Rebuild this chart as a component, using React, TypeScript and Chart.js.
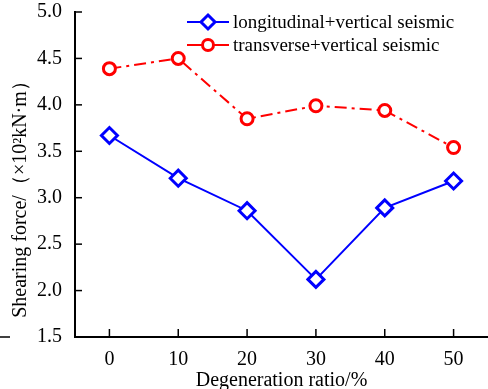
import React, { useEffect, useRef } from "react";
import { Chart, registerables } from "chart.js";

Chart.register(...registerables);

const categories = [0, 10, 20, 30, 40, 50];
const longitudinal = [3.67, 3.21, 2.86, 2.12, 2.89, 3.18];
const transverse = [4.39, 4.5, 3.85, 3.99, 3.94, 3.54];
const yTicks = [1.5, 2.0, 2.5, 3.0, 3.5, 4.0, 4.5, 5.0];
const seriesNames = ["longitudinal+vertical seismic", "transverse+vertical seismic"];
const xTitle = "Degeneration ratio/%";
const yTitle = "Shearing force/（×10²kN·m）        ";

const FONT = "'Liberation Serif', 'Times New Roman', serif";
const BLUE = "#0000ff";
const RED = "#ff0000";
const RED_DASH = [12, 5, 3, 5];

const decorPlugin = {
  id: "decor",
  afterDraw(chart: any) {
    const ctx = chart.ctx;
    const xs = chart.scales.x;
    const ys = chart.scales.y;
    const area = chart.chartArea;
    ctx.save();
    ctx.strokeStyle = "#000";
    ctx.lineWidth = 1.5;
    // inward ticks
    categories.forEach((v) => {
      const px = xs.getPixelForValue(v);
      ctx.beginPath();
      ctx.moveTo(px, area.bottom);
      ctx.lineTo(px, area.bottom - 8);
      ctx.stroke();
    });
    yTicks.forEach((v) => {
      const py = ys.getPixelForValue(v);
      ctx.beginPath();
      ctx.moveTo(area.left, py);
      ctx.lineTo(area.left + 7, py);
      ctx.stroke();
    });
    // stray mark at left
    ctx.beginPath();
    ctx.moveTo(0, area.bottom);
    ctx.lineTo(10, area.bottom);
    ctx.stroke();

    // legend
    const items = [
      { color: BLUE, style: "diamond", y: 22, name: seriesNames[0] },
      { color: RED, style: "circle", y: 45, name: seriesNames[1] },
    ];
    items.forEach((it) => {
      ctx.strokeStyle = it.color;
      ctx.lineWidth = 2;
      ctx.setLineDash([]);
      ctx.beginPath();
      ctx.moveTo(187, it.y);
      ctx.lineTo(229, it.y);
      ctx.stroke();
      ctx.lineWidth = 3;
      ctx.fillStyle = "#fff";
      ctx.beginPath();
      if (it.style === "diamond") {
        const r = 7;
        ctx.moveTo(208, it.y - r);
        ctx.lineTo(208 + r, it.y);
        ctx.lineTo(208, it.y + r);
        ctx.lineTo(208 - r, it.y);
        ctx.closePath();
      } else {
        ctx.arc(208, it.y, 5.5, 0, Math.PI * 2);
      }
      ctx.fill();
      ctx.stroke();
      ctx.fillStyle = "#000";
      ctx.font = "19px " + FONT;
      ctx.textBaseline = "middle";
      ctx.textAlign = "left";
      ctx.fillText(it.name, 233, it.y + 1);
    });
    ctx.restore();
  },
};

export default function App() {
  const ref = useRef<HTMLCanvasElement | null>(null);
  useEffect(() => {
    if (!ref.current) return;
    const chart = new Chart(ref.current, {
      type: "line",
      data: {
        datasets: [
          {
            label: seriesNames[0],
            data: categories.map((c, i) => ({ x: c, y: longitudinal[i] })),
            borderColor: BLUE,
            backgroundColor: "#fff",
            borderWidth: 2,
            pointStyle: "rectRot",
            pointRadius: 8,
            pointBorderWidth: 3,
            pointBorderColor: BLUE,
            pointBackgroundColor: "#fff",
          },
          {
            label: seriesNames[1],
            data: categories.map((c, i) => ({ x: c, y: transverse[i] })),
            borderColor: RED,
            backgroundColor: "#fff",
            borderWidth: 2,
            borderDash: RED_DASH,
            pointStyle: "circle",
            pointRadius: 6,
            pointBorderWidth: 3,
            pointBorderColor: RED,
            pointBackgroundColor: "#fff",
          },
        ],
      },
      options: {
        responsive: false,
        animation: false,
        devicePixelRatio: 1,
        layout: { autoPadding: false, padding: { top: 12, right: 0, bottom: 0, left: 0 } },
        plugins: { legend: { display: false }, tooltip: { enabled: false } },
        scales: {
          x: {
            type: "linear",
            min: -5,
            max: 55,
            afterBuildTicks: (s: any) => {
              s.ticks = categories.map((v) => ({ value: v }));
            },
            afterFit: (s: any) => {
              s.height = 52;
              s.paddingLeft = 0;
              s.paddingRight = 0;
            },
            grid: { display: false },
            border: { display: true, color: "#000", width: 2 },
            ticks: { color: "#000", padding: 3, font: { family: FONT, size: 20 } },
            title: {
              display: true,
              text: xTitle,
              color: "#000",
              padding: { top: 0, bottom: -4 },
              font: { family: FONT, size: 20 },
            },
          },
          y: {
            type: "linear",
            min: 1.5,
            max: 5.0,
            afterBuildTicks: (s: any) => {
              s.ticks = yTicks.map((v) => ({ value: v }));
            },
            afterFit: (s: any) => {
              s.width = 75;
              s.paddingTop = 0;
              s.paddingBottom = 0;
            },
            grid: { display: false },
            border: { display: true, color: "#000", width: 2 },
            ticks: {
              color: "#000",
              padding: 5,
              font: { family: FONT, size: 20 },
              callback: (v: any) => Number(v).toFixed(1),
            },
            title: {
              display: true,
              text: yTitle,
              color: "#000",
              padding: { top: 9, bottom: 0 },
              font: { family: FONT, size: 20 },
            },
          },
        },
      },
      plugins: [decorPlugin],
    } as any);
    return () => chart.destroy();
  }, []);
  return (
    <div style={{ position: "absolute", left: 0, top: 0, width: 488, height: 389 }}>
      <canvas ref={ref} width={488} height={389} />
    </div>
  );
}
